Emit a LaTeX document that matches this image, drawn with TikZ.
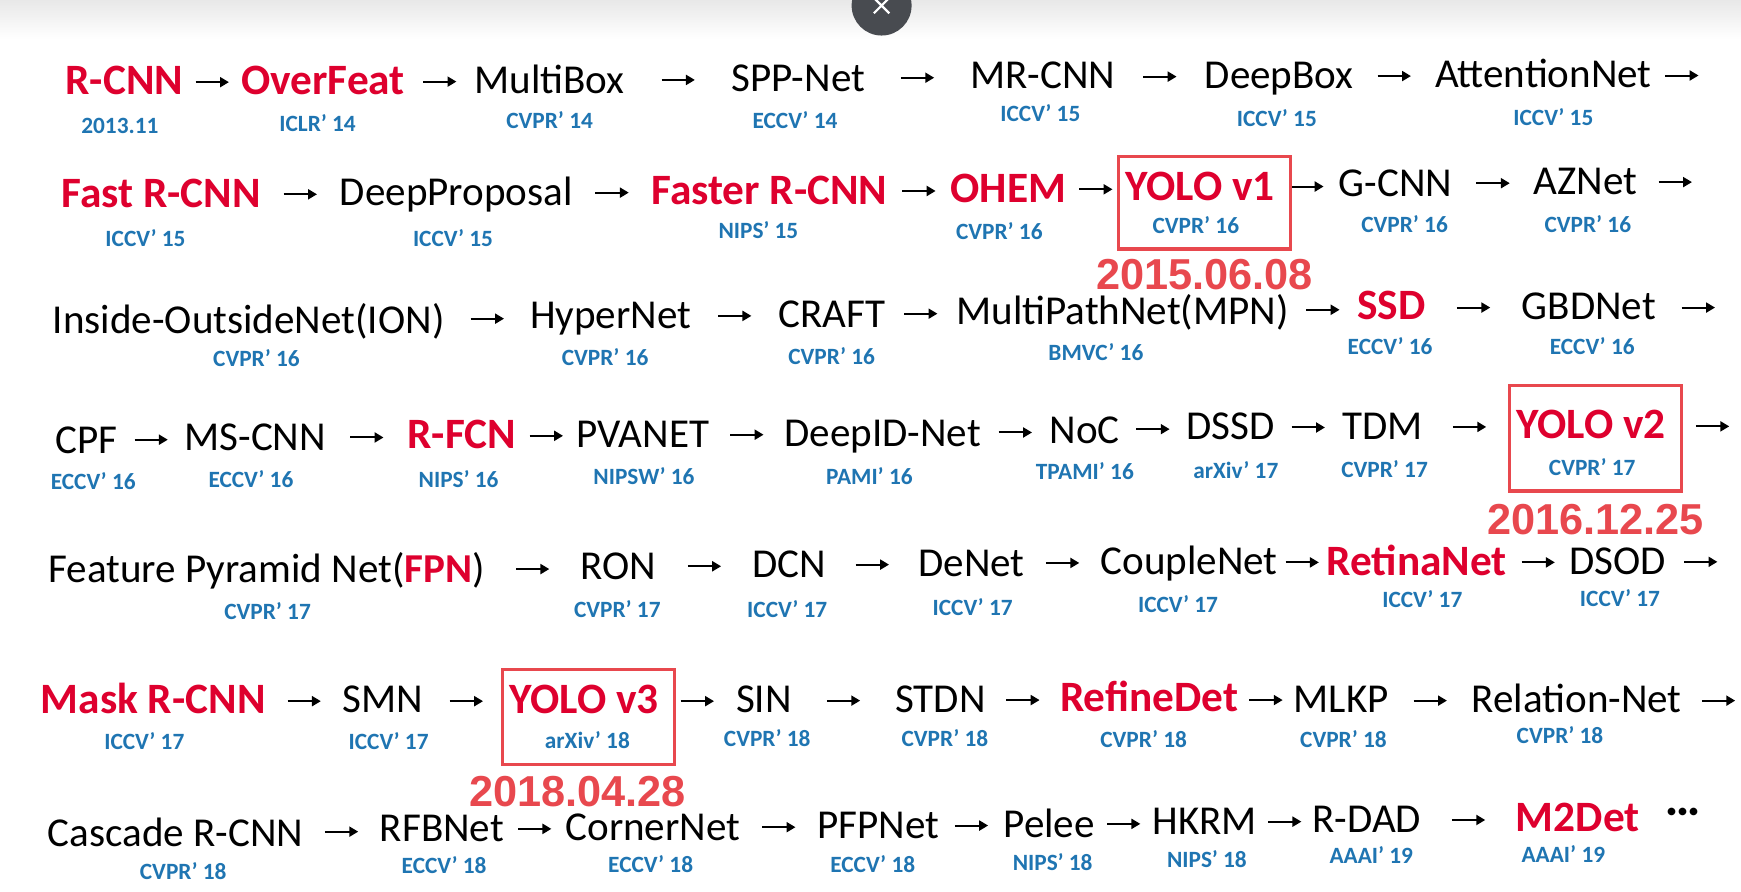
\documentclass[tikz,border=0pt]{standalone}
\usepackage{fontspec}
\setmainfont{Carlito}
\newfontfamily\datefont{Liberation Sans}
\usetikzlibrary{arrows.meta,calc,fit,positioning}

\definecolor{namered}{RGB}{222,0,46}
\definecolor{boxred}{RGB}{232,72,78}
\definecolor{venueblue}{RGB}{31,117,178}
\definecolor{closegray}{RGB}{72,75,80}

\tikzset{
  model/.style={anchor=base, inner sep=0pt, font=\fontsize{37}{41}\selectfont},
  hot/.style={model, text=namered, font=\fontsize{39}{44}\selectfont\bfseries},
  venue/.style={anchor=base, inner sep=0pt, text=venueblue, font=\fontsize{21}{24}\selectfont\bfseries},
  arr/.style={-{Triangle[length=8pt,width=9pt]}, line width=1.8pt},
  yolobox/.style={draw=boxred, line width=3pt, inner xsep=10pt, inner ysep=14pt, xshift=4pt},
  datelbl/.style={text=boxred, inner sep=0pt, font=\fontsize{39}{44}\selectfont\datefont\bfseries},
}

% arrow centred in the gap between two models
\newcommand{\joinarr}[2]{\draw[arr] ($(#1.base east)!.5!(#2.base west)+(-15,-11)$) -- ++(30,0);}
% arrow leaving the last model of a row
\newcommand{\tailarr}[2]{\draw[arr] ($(#1.base east)+(#2,-11)$) -- ++(30,0);}

\begin{document}
\begin{tikzpicture}[x=1pt,y=-1pt]

\useasboundingbox (0,0) rectangle (1568,803);
\fill[white] (0,0) rectangle (1568,803);
\shade[top color=black!9, bottom color=white] (0,0) rectangle (1568,35);

% close button
\fill[closegray] (794,5) circle (27pt);
\draw[white, line width=2pt] (787,-2) -- (801,12) (801,-2) -- (787,12);

% Models (name/style/x/baseline/text)
\foreach \nm/\sty/\x/\y/\txt in {
    rcnn/hot/112/85/R-CNN, overfeat/hot/291/85/OverFeat, multibox/model/495/84/MultiBox,
    sppnet/model/719/82/SPP-Net, mrcnn/model/939/80/MR-CNN, deepbox/model/1152/80/DeepBox,
    attnet/model/1390/79/AttentionNet,
    fastrcnn/hot/145/187/Fast R-CNN, deepprop/model/411/185/DeepProposal,
    fasterrcnn/hot/693/184/Faster R-CNN, ohem/hot/908/182/OHEM, yolo1/hot/1081/181/YOLO v1,
    gcnn/model/1257/177/G-CNN, aznet/model/1428/175/AZNet,
    ion/model/224/300/Inside-OutsideNet(ION), hypernet/model/550/296/HyperNet,
    craft/model/749/295/CRAFT, mpn/model/1011/292/MultiPathNet(MPN), ssd/hot/1253/288/SSD,
    gbdnet/model/1431/288/GBDNet,
    cpf/model/78/408/CPF, mscnn/model/230/406/MS-CNN, rfcn/hot/416/404/R-FCN,
    pvanet/model/579/403/PVANET, deepid/model/795/402/DeepID-Net, noc/model/977/399/NoC,
    dssd/model/1108/396/DSSD, tdm/model/1245/396/TDM, yolo2/hot/1433/395/YOLO v2,
    fpn/model/240/525/{Feature Pyramid Net(\textcolor{namered}{\bfseries FPN})},
    ron/model/557/522/RON, dcn/model/711/520/DCN, denet/model/875/519/DeNet,
    couplenet/model/1071/517/CoupleNet, retinanet/hot/1276/518/RetinaNet, dsod/model/1457/517/DSOD,
    maskrcnn/hot/138/643/Mask R-CNN, smn/model/345/642/SMN, yolo3/hot/526/643/YOLO v3,
    sin/model/688/642/SIN, stdn/model/847/642/STDN, refinedet/hot/1035/641/RefineDet,
    mlkp/model/1208/642/MLKP, relnet/model/1420/642/Relation-Net,
    cascade/model/158/762/Cascade R-CNN, rfbnet/model/398/758/RFBNet,
    cornernet/model/588/757/CornerNet, pfpnet/model/791/755/PFPNet, pelee/model/945/754/Pelee,
    hkrm/model/1085/752/HKRM, rdad/model/1231/750/R-DAD, m2det/hot/1421/749/M2Det,
    more/model/1516/742/\textbf{···}} {
    \node[\sty] (\nm) at (\x,\y) {\txt};
}

% Venues (model/x/baseline/text)
\foreach \nm/\x/\y/\txt in {
    rcnn/108/120/2013.11, overfeat/286/118/ICLR' 14, multibox/495/116/CVPR' 14,
    sppnet/716/116/ECCV' 14, mrcnn/937/109/ICCV' 15, deepbox/1150/114/ICCV' 15,
    attnet/1399/113/ICCV' 15,
    fastrcnn/131/222/ICCV' 15, deepprop/408/222/ICCV' 15, fasterrcnn/683/215/NIPS' 15,
    ohem/900/216/CVPR' 16, yolo1/1077/210/CVPR' 16, gcnn/1265/209/CVPR' 16, aznet/1430/209/CVPR' 16,
    ion/231/330/CVPR' 16, hypernet/545/329/CVPR' 16, craft/749/328/CVPR' 16,
    mpn/987/325/BMVC' 16, ssd/1252/319/ECCV' 16, gbdnet/1434/319/ECCV' 16,
    cpf/84/441/ECCV' 16, mscnn/226/439/ECCV' 16, rfcn/413/439/NIPS' 16, pvanet/580/436/NIPSW' 16,
    deepid/783/436/PAMI' 16, noc/977/432/TPAMI' 16, dssd/1113/431/arXiv' 17,
    tdm/1247/430/CVPR' 17, yolo2/1434/428/CVPR' 17,
    fpn/241/558/CVPR' 17, ron/556/556/CVPR' 17, dcn/709/556/ICCV' 17, denet/876/554/ICCV' 17,
    couplenet/1061/552/ICCV' 17, retinanet/1281/547/ICCV' 17, dsod/1459/546/ICCV' 17,
    maskrcnn/130/675/ICCV' 17, smn/350/675/ICCV' 17, yolo3/529/674/arXiv' 18,
    sin/691/672/CVPR' 18, stdn/851/672/CVPR' 18, refinedet/1030/673/CVPR' 18,
    mlkp/1210/673/CVPR' 18, relnet/1405/670/CVPR' 18,
    cascade/165/792/CVPR' 18, rfbnet/400/787/ECCV' 18, cornernet/586/786/ECCV' 18,
    pfpnet/786/786/ECCV' 18, pelee/948/784/NIPS' 18, hkrm/1087/781/NIPS' 18,
    rdad/1235/778/AAAI' 19, m2det/1408/777/AAAI' 19} {
    \node[venue] (\nm-v) at (\x,\y) {\txt};
}

% Arrows between models
\foreach \a/\b in {
    rcnn/overfeat, overfeat/multibox, multibox/sppnet, sppnet/mrcnn, mrcnn/deepbox, deepbox/attnet,
    fastrcnn/deepprop, deepprop/fasterrcnn, fasterrcnn/ohem, ohem/yolo1, yolo1/gcnn, gcnn/aznet,
    ion/hypernet, hypernet/craft, craft/mpn, mpn/ssd, ssd/gbdnet,
    cpf/mscnn, mscnn/rfcn, rfcn/pvanet, pvanet/deepid, deepid/noc, noc/dssd, dssd/tdm, tdm/yolo2,
    fpn/ron, ron/dcn, dcn/denet, denet/couplenet, couplenet/retinanet, retinanet/dsod,
    maskrcnn/smn, smn/yolo3, yolo3/sin, sin/stdn, stdn/refinedet, refinedet/mlkp, mlkp/relnet,
    cascade/rfbnet, rfbnet/cornernet, cornernet/pfpnet, pfpnet/pelee, pelee/hkrm, hkrm/rdad, rdad/m2det} {
    \joinarr{\a}{\b}
}

% Arrows at the end of the rows
\foreach \a/\g in {attnet/12, aznet/19, gbdnet/23, yolo2/27, dsod/16, relnet/18} {
    \tailarr{\a}{\g}
}

% YOLO boxes and dates
\node[yolobox, fit=(yolo1)(yolo1-v)] (box1) {};
\node[yolobox, fit=(yolo2)(yolo2-v), inner ysep=18pt, yshift=4pt] (box2) {};
\node[yolobox, fit=(yolo3)(yolo3-v)] (box3) {};

\node[datelbl, below=7pt of box1] (date1) {2015.06.08};
\node[datelbl, below=10pt of box2] (date2) {2016.12.25};
\node[datelbl, below=9pt of box3, xshift=-10pt] (date3) {2018.04.28};

\end{tikzpicture}
\end{document}
